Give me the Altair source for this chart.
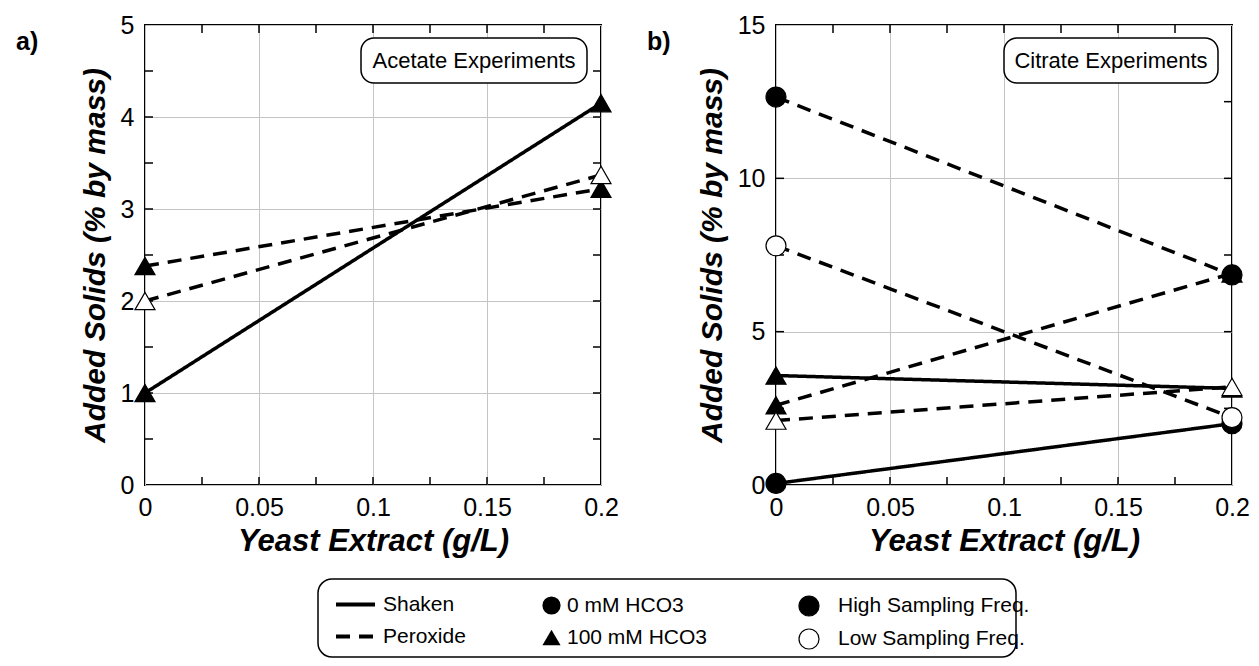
import altair as alt
import pandas as pd

FONT = "Liberation Sans"

# ---------------- data ----------------
x_levels = [0.0, 0.2]

a_method = ["Shaken", "Peroxide", "Peroxide"]
a_hco3 = ["100 mM HCO3", "100 mM HCO3", "100 mM HCO3"]
a_freq = ["High Sampling Freq.", "High Sampling Freq.", "Low Sampling Freq."]
a_y_start = [1.0, 2.38, 2.0]
a_y_end = [4.15, 3.22, 3.37]

b_method = ["Shaken", "Peroxide", "Peroxide", "Shaken", "Peroxide", "Peroxide"]
b_hco3 = ["0 mM HCO3", "100 mM HCO3", "0 mM HCO3", "100 mM HCO3", "100 mM HCO3", "0 mM HCO3"]
b_freq = ["High Sampling Freq.", "High Sampling Freq.", "High Sampling Freq.",
          "High Sampling Freq.", "Low Sampling Freq.", "Low Sampling Freq."]
b_y_start = [0.05, 2.6, 12.65, 3.57, 2.1, 7.8]
b_y_end = [2.0, 6.9, 6.85, 3.15, 3.2, 2.2]

method_domain = ["Shaken", "Peroxide"]
hco3_domain = ["0 mM HCO3", "100 mM HCO3"]
freq_domain = ["High Sampling Freq.", "Low Sampling Freq."]

x_major = [0, 0.05, 0.1, 0.15, 0.2]
x_minor = [0.025, 0.05, 0.075, 0.1, 0.125, 0.15, 0.175]
a_y_major = [0, 1, 2, 3, 4, 5]
a_y_minor = [0.5, 1, 1.5, 2, 2.5, 3, 3.5, 4, 4.5]
b_y_major = [0, 5, 10, 15]
b_y_minor = [2.5, 5, 7.5, 10, 12.5]

panel_labels = ["a)", "b)"]
panel_notes = ["Acetate Experiments", "Citrate Experiments"]
x_title = "Yeast Extract (g/L)"
y_title = "Added Solids (% by mass)"


def build_df(prefix, methods, hco3, freq, ys, ye):
    rows = []
    for i in range(len(methods)):
        for xv, yv in zip(x_levels, [ys[i], ye[i]]):
            rows.append({"series": f"{prefix}{i}", "x": xv, "y": yv,
                         "method": methods[i], "hco3": hco3[i], "freq": freq[i]})
    return pd.DataFrame(rows)


df_a = build_df("a", a_method, a_hco3, a_freq, a_y_start, a_y_end)
df_b = build_df("b", b_method, b_hco3, b_freq, b_y_start, b_y_end)

W, H = 456, 460
TICK = 8

dash_legend = alt.Legend(
    title=None, orient="none", legendX=189, legendY=558, padding=0,
    symbolType="stroke", symbolSize=1521, symbolStrokeWidth=4,
    symbolStrokeColor="black", labelFont=FONT, labelFontSize=21,
    labelColor="black", labelOffset=6, rowPadding=0, labelLimit=500,
)
shape_legend = alt.Legend(
    title=None, orient="none", legendX=396, legendY=570, padding=0,
    symbolSize=330, symbolFillColor="black", symbolStrokeColor="black",
    symbolStrokeWidth=0, labelFont=FONT, labelFontSize=21, labelColor="black",
    labelOffset=5, rowPadding=10, labelLimit=500,
)
fill_legend = alt.Legend(
    title=None, orient="none", legendX=653, legendY=570, padding=0,
    symbolType="circle", symbolSize=400, symbolStrokeColor="black",
    symbolStrokeWidth=1.2, labelFont=FONT, labelFontSize=21,
    labelColor="black", labelOffset=18, rowPadding=7, labelLimit=500,
)


def panel(df, ymax, y_major, y_minor, label, note, with_box):
    xs = alt.Scale(domain=[0, 0.2], nice=False, zero=False)
    ys = alt.Scale(domain=[0, ymax], nice=False)
    x_axis = alt.Axis(values=x_major, format=".2~f", ticks=False, domain=False,
                      grid=True, gridColor="#c4c4c4", gridWidth=1,
                      labelFont=FONT, labelFontSize=25, labelColor="black",
                      labelPadding=10, labelFlush=False,
                      title=x_title, titleFont=FONT, titleFontSize=31,
                      titleFontStyle="italic", titleFontWeight="bold",
                      titleColor="black", titlePadding=6)
    y_axis = alt.Axis(values=y_major, format="d", ticks=False, domain=False,
                      grid=True, gridColor="#c4c4c4", gridWidth=1,
                      labelFont=FONT, labelFontSize=25, labelColor="black",
                      labelPadding=11, labelFlush=False,
                      title=y_title, titleFont=FONT, titleFontSize=30,
                      titleFontStyle="italic", titleFontWeight="bold",
                      titleColor="black", titlePadding=10)

    base = alt.Chart(df)
    lines = base.mark_line(color="black", strokeWidth=3.5).encode(
        x=alt.X("x:Q", scale=xs, axis=x_axis),
        y=alt.Y("y:Q", scale=ys, axis=y_axis),
        detail="series:N",
        strokeDash=alt.StrokeDash("method:N",
                                  scale=alt.Scale(domain=method_domain, range=[[1, 0], [14, 9]]),
                                  legend=dash_legend),
    )
    points = base.mark_point(filled=True, size=400, stroke="black",
                             strokeWidth=1.2, opacity=1).encode(
        x=alt.X("x:Q", scale=xs),
        y=alt.Y("y:Q", scale=ys),
        shape=alt.Shape("hco3:N",
                        scale=alt.Scale(domain=hco3_domain, range=["circle", "triangle-up"]),
                        legend=shape_legend),
        fill=alt.Fill("freq:N",
                      scale=alt.Scale(domain=freq_domain, range=["black", "white"]),
                      legend=fill_legend),
    )

    xt = pd.DataFrame({"v": x_minor})
    yt = pd.DataFrame({"v": y_minor})
    t_bottom = alt.Chart(xt).mark_rule(color="black", strokeWidth=1.5).encode(
        x=alt.X("v:Q", scale=xs), y=alt.value(H), y2=alt.value(H - TICK))
    t_top = alt.Chart(xt).mark_rule(color="black", strokeWidth=1.5).encode(
        x=alt.X("v:Q", scale=xs), y=alt.value(0), y2=alt.value(TICK))
    t_left = alt.Chart(yt).mark_rule(color="black", strokeWidth=1.5).encode(
        y=alt.Y("v:Q", scale=ys), x=alt.value(0), x2=alt.value(TICK))
    t_right = alt.Chart(yt).mark_rule(color="black", strokeWidth=1.5).encode(
        y=alt.Y("v:Q", scale=ys), x=alt.value(W - TICK), x2=alt.value(W))

    one = alt.Chart(pd.DataFrame({"label": [label], "note": [note]}))
    note_box = one.mark_rect(fill="white", stroke="black", strokeWidth=1.5,
                             cornerRadius=13).encode(
        x=alt.value(W - 14 - (226 if with_box else 214)), x2=alt.value(W - 14),
        y=alt.value(13), y2=alt.value(58))
    note_text = one.mark_text(font=FONT, fontSize=22, color="black",
                              align="center", baseline="middle").encode(
        text="note:N", x=alt.value(W - 14 - (113 if with_box else 107)), y=alt.value(36))
    lab = one.mark_text(font=FONT, fontSize=25, fontWeight="bold", color="black",
                        align="left", baseline="middle").encode(
        text="label:N", x=alt.value(-129), y=alt.value(17))

    layers = [t_bottom, t_top, t_left, t_right, lines, points, note_box, note_text, lab]
    if with_box:
        legend_box = one.mark_rect(fillOpacity=0, stroke="black", strokeWidth=1.5,
                                   cornerRadius=14).encode(
            x=alt.value(173), x2=alt.value(871), y=alt.value(554), y2=alt.value(632))
        layers.append(legend_box)
    return alt.layer(*layers).properties(width=W, height=H)


pa = panel(df_a, 5, a_y_major, a_y_minor, panel_labels[0], panel_notes[0], True)
pb = panel(df_b, 15, b_y_major, b_y_minor, panel_labels[1], panel_notes[1], False)

chart = alt.hconcat(pa, pb, spacing=175, bounds="flush").resolve_scale(
    x="independent", y="independent",
    strokeDash="shared", shape="shared", fill="shared",
).properties(
    padding={"left": 7, "top": 4, "right": 0, "bottom": 0},
    background="white",
).configure_view(stroke="black", strokeWidth=2)

chart.save("out.html", embed_options={"renderer": "svg", "actions": False})
